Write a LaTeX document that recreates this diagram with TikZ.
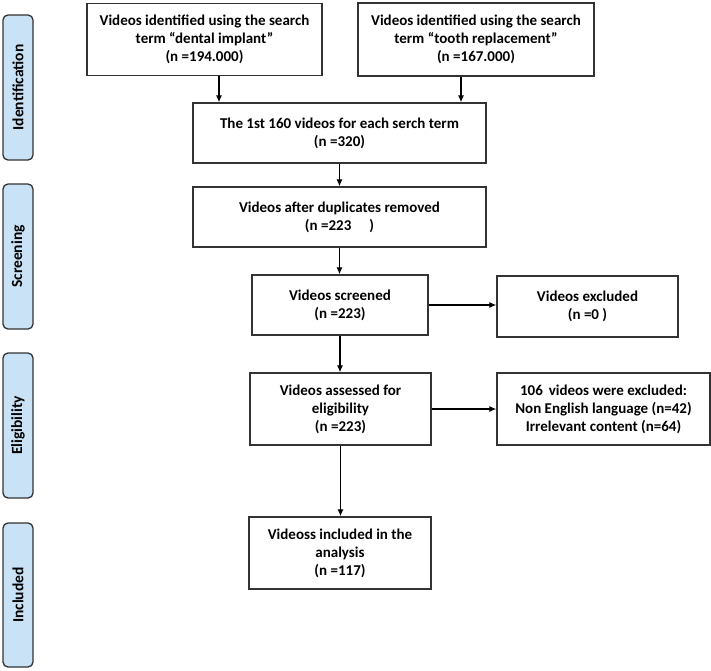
\documentclass[tikz,border=0pt]{standalone}
\usepackage{fontspec}
\setmainfont{Carlito}
\usetikzlibrary{arrows.meta}
\definecolor{sidefill}{HTML}{C9E2F6}
\definecolor{edge}{HTML}{333333}
\begin{document}
\begin{tikzpicture}[x=1pt,y=-1pt,
  box/.style={draw=edge,line width=1.3pt,fill=white,align=center,inner sep=2pt,
    font=\fontsize{15}{18}\selectfont\bfseries},
  side/.style={draw=edge,line width=1.3pt,fill=sidefill,rounded corners=5pt,
    minimum height=30pt,rotate=90,font=\fontsize{15.5}{17}\selectfont\bfseries},
  arr/.style={draw=black,line width=1.2pt,-{Latex[length=7pt,width=6pt]}}]
\useasboundingbox (0,0) rectangle (711,670);
\fill[white] (0,0) rectangle (711,670);
% side labels
\node[side,minimum width=145pt] (sid) at (18,87.5) {Identification};
\node[side,minimum width=145pt] (ssc) at (18,256.5) {Screening};
\node[side,minimum width=145pt] (sel) at (18,425.5) {Eligibility};
\node[side,minimum width=144pt] (sin) at (18,595) {Included};
% boxes
\node[box,minimum width=235pt,minimum height=72pt] (b1) at (204.5,39.5) {Videos identified using the search\\term \textquotedblleft dental implant\textquotedblright\\(n =194.000)};
\node[box,minimum width=236pt,minimum height=73pt] (b2) at (476,39.5) {Videos identified using the search\\term \textquotedblleft tooth replacement\textquotedblright\\(n =167.000)};
\node[box,minimum width=293pt,minimum height=60pt] (b3) at (339.5,133) {The 1st 160 videos for each serch term\\(n =320)};
\node[box,minimum width=293pt,minimum height=60pt] (b4) at (339.5,217) {Videos after duplicates removed\\(n =223\hspace{1.2em})};
\node[box,minimum width=176pt,minimum height=60pt] (b5) at (340,305) {Videos screened\\(n =223)};
\node[box,minimum width=181pt,minimum height=61pt] (e1) at (587.5,306.5) {Videos excluded\\(n =0 )};
\node[box,minimum width=181pt,minimum height=72pt] (b6) at (340.5,409) {Videos assessed for\\eligibility\\(n =223)};
\node[box,minimum width=213pt,minimum height=72pt] (e2) at (603.5,409) {106\, videos were excluded:\\Non English language (n=42)\\Irrelevant content (n=64)};
\node[box,minimum width=182pt,minimum height=72pt] (b7) at (340,553) {Videoss included in the\\analysis\\(n =117)};
% arrows
\draw[arr] ([xshift=14.5pt]b1.south) -- ([xshift=14.5pt]b1.south |- b3.north);
\draw[arr] ([xshift=-15pt]b2.south) -- ([xshift=-15pt]b2.south |- b3.north);
\draw[arr] (b3.south) -- (b3.south |- b4.north);
\draw[arr] (b4.south) -- (b4.south |- b5.north);
\draw[arr] (b5.east) -- (b5.east -| e1.west);
\draw[arr] (b5.south) -- (b5.south |- b6.north);
\draw[arr] (b6.east) -- (b6.east -| e2.west);
\draw[arr] (b6.south) -- (b6.south |- b7.north);
\end{tikzpicture}
\end{document}
